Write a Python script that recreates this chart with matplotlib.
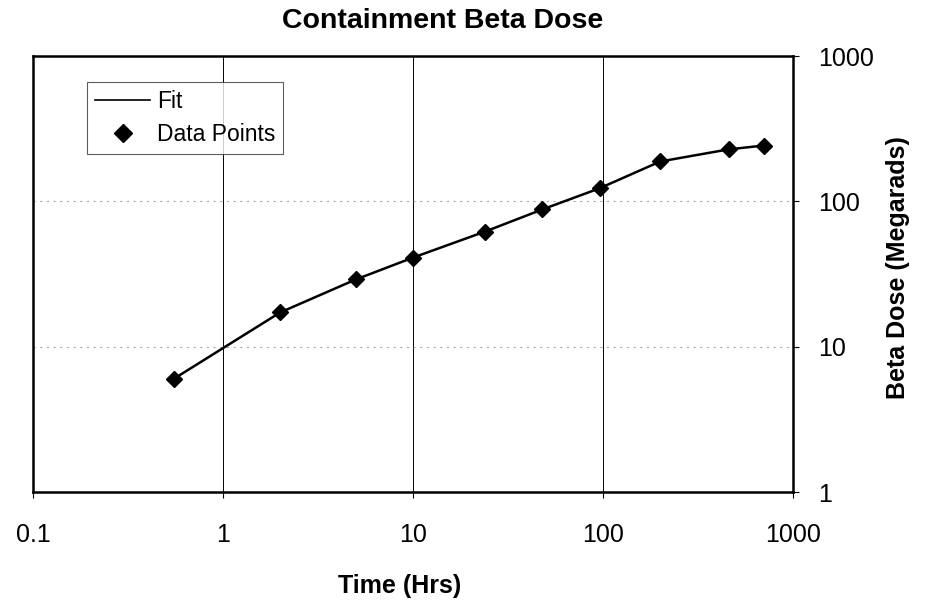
import matplotlib
matplotlib.use('Agg')
import matplotlib.pyplot as plt
from matplotlib.lines import Line2D

plt.rcParams['font.family'] = ['Liberation Sans', 'DejaVu Sans']

# Data
time_hrs = [0.55, 2, 5, 10, 24, 48, 96, 200, 460, 700]
beta_dose = [6.0, 17.2, 29, 41, 62, 88, 123, 188, 228, 242]

x_ticks = [0.1, 1, 10, 100, 1000]
x_tick_labels = ['0.1', '1', '10', '100', '1000']
y_ticks = [1, 10, 100, 1000]
y_tick_labels = ['1', '10', '100', '1000']

fig = plt.figure(figsize=(9.3, 6.04), dpi=100)
ax = fig.add_axes([33 / 930, 1 - 492 / 604, 760 / 930, 436 / 604])

ax.set_xscale('log')
ax.set_yscale('log')
ax.set_xlim(0.1, 1000)
ax.set_ylim(1, 1000)

# gridlines: solid vertical, faint dotted horizontal
for xv in [1, 10, 100]:
    ax.axvline(xv, color='black', linewidth=0.7, zorder=1)
for yv in [10, 100]:
    ax.axhline(yv, color='#aaaaaa', linewidth=0.8, linestyle=(0, (2, 4)), zorder=1)

ax.plot(time_hrs, beta_dose, color='black', linewidth=1.8, zorder=2)
ax.plot(time_hrs, beta_dose, linestyle='none', marker='D', markersize=8.5,
        color='black', zorder=3)

ax.yaxis.tick_right()
ax.set_xticks(x_ticks)
ax.set_xticklabels(x_tick_labels)
ax.set_yticks(y_ticks)
ax.set_yticklabels(y_tick_labels)
ax.minorticks_off()
ax.tick_params(axis='both', which='major', labelsize=18, direction='out',
               length=4, width=0.8)
ax.tick_params(axis='x', pad=18)
ax.tick_params(axis='y', pad=14)

for s in ax.spines.values():
    s.set_linewidth(1.8)

fig.text(443 / 930, 1 - 21 / 604, 'Containment Beta Dose', fontsize=20.5,
         fontweight='bold', ha='center', va='center')
ax.set_xlabel('Time (Hrs)', fontsize=18, fontweight='bold')
ax.xaxis.set_label_coords((400 - 33) / 760, -(586 - 492) / 436)
ax.xaxis.label.set_va('center')
ax.yaxis.set_label_position('right')
ax.set_ylabel('Beta Dose (Megarads)', fontsize=18, fontweight='bold')
ax.yaxis.set_label_coords((898 - 33) / 760, (492 - 268) / 436)
ax.yaxis.label.set_va('center')

handles = [Line2D([0], [0], color='black', linewidth=1.2),
           Line2D([0], [0], linestyle='none', marker='D', markersize=9, color='black')]
leg = ax.legend(handles, ['Fit', 'Data Points'], loc='upper left',
                bbox_to_anchor=((87 - 33) / 760, (492 - 82) / 436), fontsize=16.5,
                frameon=True, fancybox=False, handlelength=2.4, handletextpad=0.3,
                borderpad=0.35, borderaxespad=0, labelspacing=0.45)
leg.get_frame().set_edgecolor('#333333')
leg.get_frame().set_linewidth(0.8)

fig.savefig('out.png', dpi=100)
